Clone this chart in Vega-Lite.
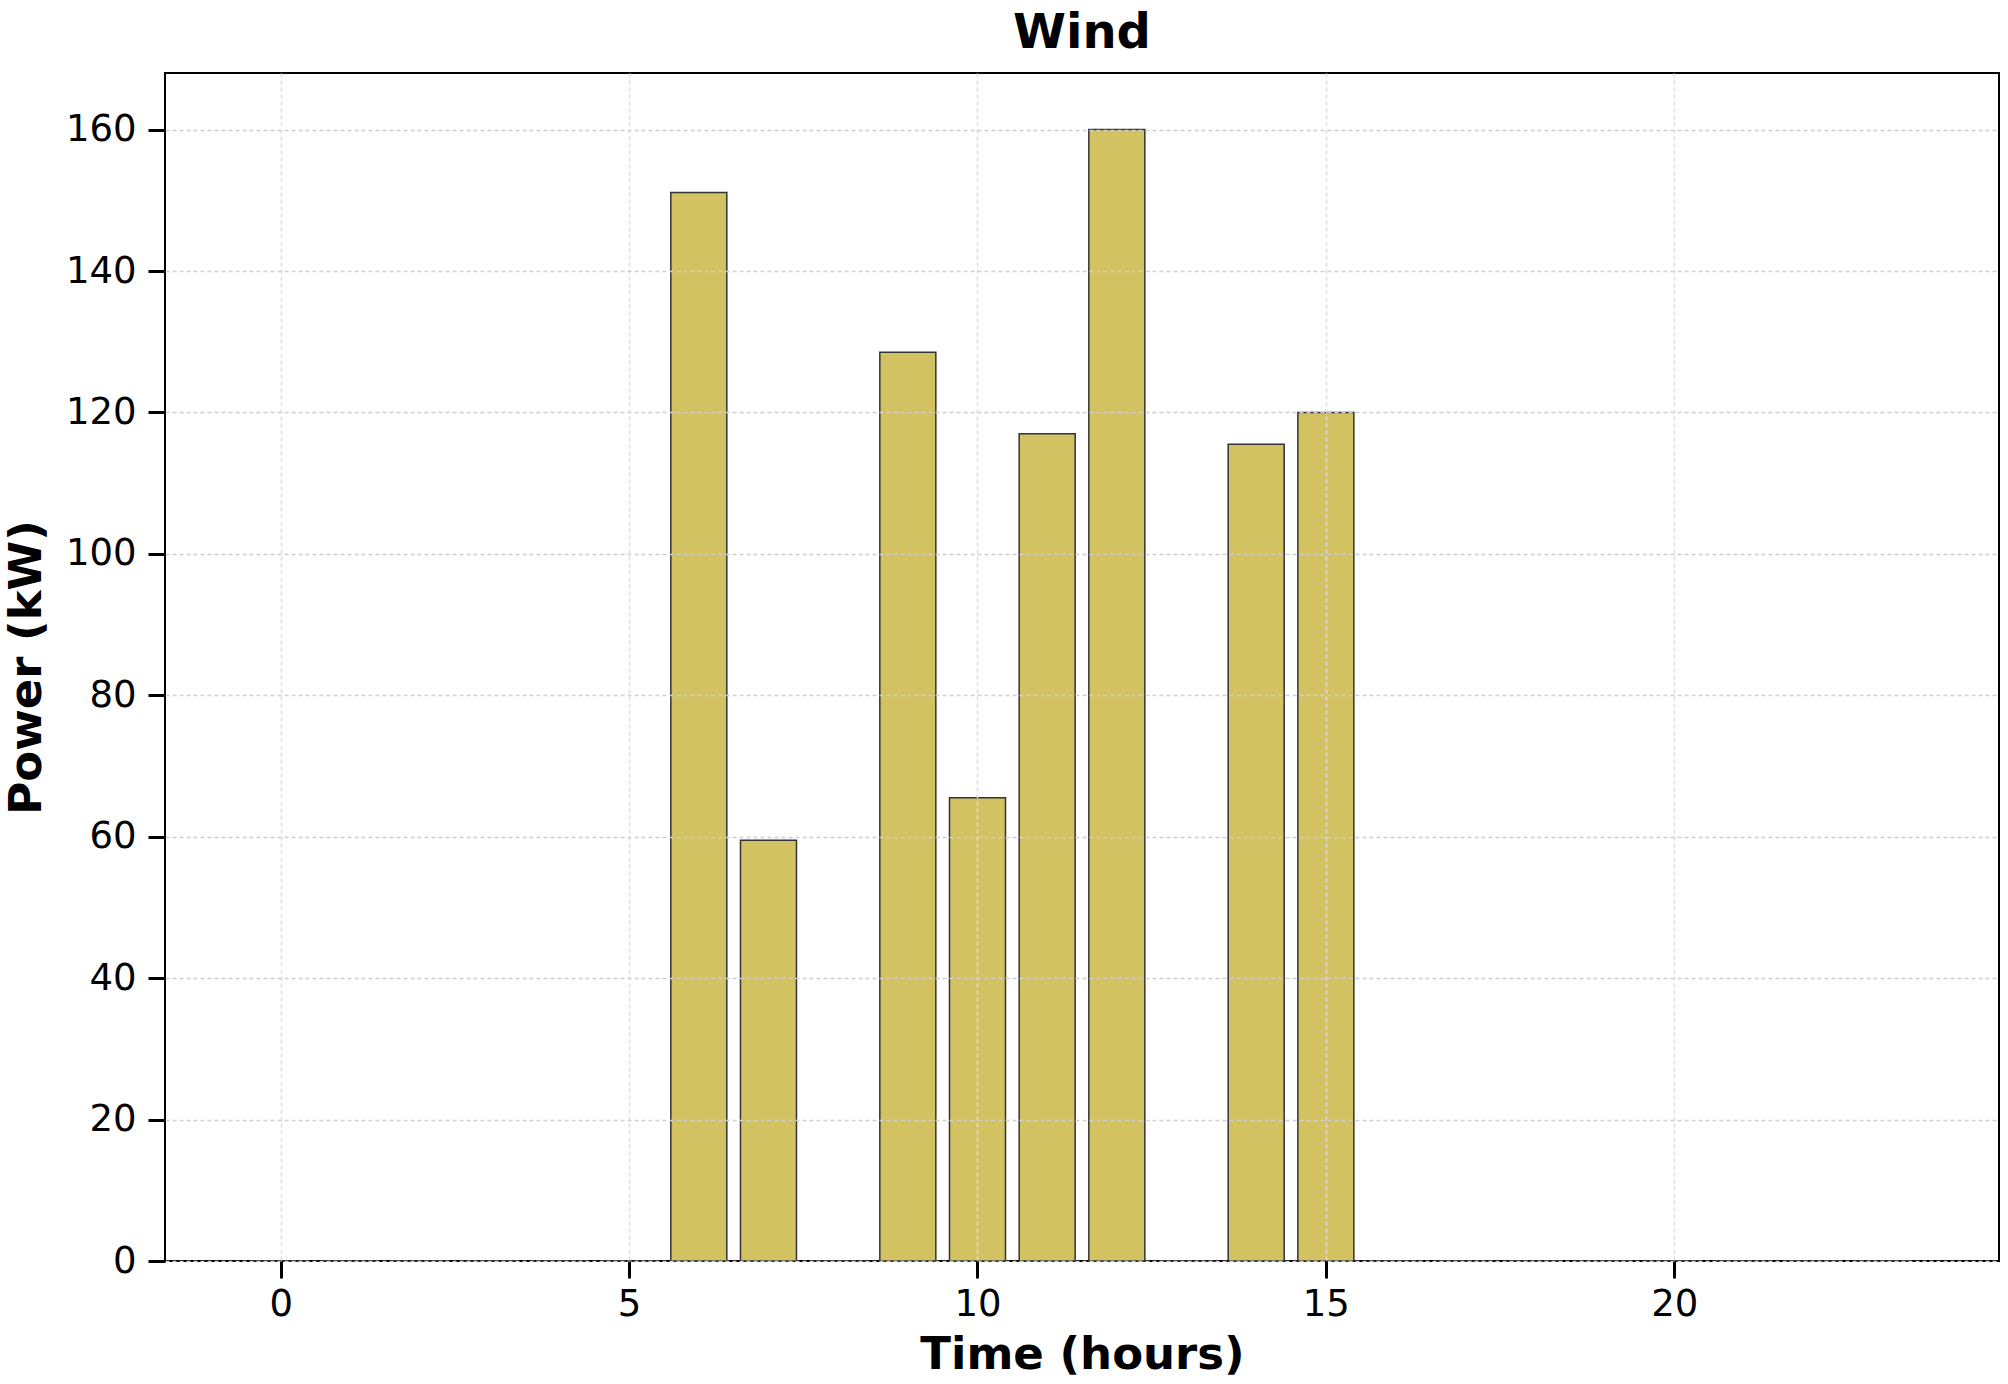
{
  "$schema": "https://vega.github.io/schema/vega-lite/v6.json",
  "autosize": "none",
  "width": 1834,
  "height": 1188,
  "padding": {"left": 165, "top": 73, "right": 9, "bottom": 123},
  "background": "white",
  "title": {"text": "Wind", "fontSize": 48, "fontWeight": "bold", "font": "DejaVu Sans", "color": "black", "offset": 15, "anchor": "middle"},
  "config": {
    "font": "DejaVu Sans",
    "view": {"stroke": "black", "strokeWidth": 2}
  },
  "data": {
    "values": [
      {"hour": 0, "power": 0}, {"hour": 1, "power": 0}, {"hour": 2, "power": 0}, {"hour": 3, "power": 0},
      {"hour": 4, "power": 0}, {"hour": 5, "power": 0}, {"hour": 6, "power": 151.1}, {"hour": 7, "power": 59.5},
      {"hour": 8, "power": 0}, {"hour": 9, "power": 128.5}, {"hour": 10, "power": 65.5}, {"hour": 11, "power": 117.0},
      {"hour": 12, "power": 160.0}, {"hour": 13, "power": 0}, {"hour": 14, "power": 115.5}, {"hour": 15, "power": 120.0},
      {"hour": 16, "power": 0}, {"hour": 17, "power": 0}, {"hour": 18, "power": 0}, {"hour": 19, "power": 0},
      {"hour": 20, "power": 0}, {"hour": 21, "power": 0}, {"hour": 22, "power": 0}, {"hour": 23, "power": 0}
    ]
  },
  "mark": {"type": "bar", "width": 56, "color": "#d2c262", "stroke": "#333333", "strokeWidth": 1.5},
  "encoding": {
    "x": {
      "field": "hour", "type": "quantitative",
      "scale": {"domain": [-1.59, 24.59], "nice": false, "zero": false},
      "axis": {
        "title": "Time (hours)", "values": [0, 5, 10, 15, 20], "format": "d",
        "domain": false, "ticks": true, "tickSize": 17, "tickWidth": 3, "tickColor": "black",
        "labelFontSize": 37, "labelColor": "black", "labelPadding": 8, "labelFlush": false,
        "titleFontSize": 45, "titleFontWeight": "bold", "titleColor": "black", "titlePadding": 10,
        "grid": true, "gridColor": "#dddddd", "gridDash": [4, 3], "gridWidth": 1.5, "zindex": 1
      }
    },
    "y": {
      "field": "power", "type": "quantitative",
      "scale": {"domain": [0, 168], "nice": false},
      "axis": {
        "title": "Power (kW)", "values": [0, 20, 40, 60, 80, 100, 120, 140, 160],
        "domain": false, "ticks": true, "tickSize": 17, "tickWidth": 3, "tickColor": "black",
        "labelFontSize": 37, "labelColor": "black", "labelPadding": 12, "labelFlush": false,
        "titleFontSize": 45, "titleFontWeight": "bold", "titleColor": "black", "titlePadding": 16,
        "grid": true, "gridColor": "#d0d0d0", "gridDash": [4, 3], "gridWidth": 1.5, "zindex": 1
      }
    }
  }
}
